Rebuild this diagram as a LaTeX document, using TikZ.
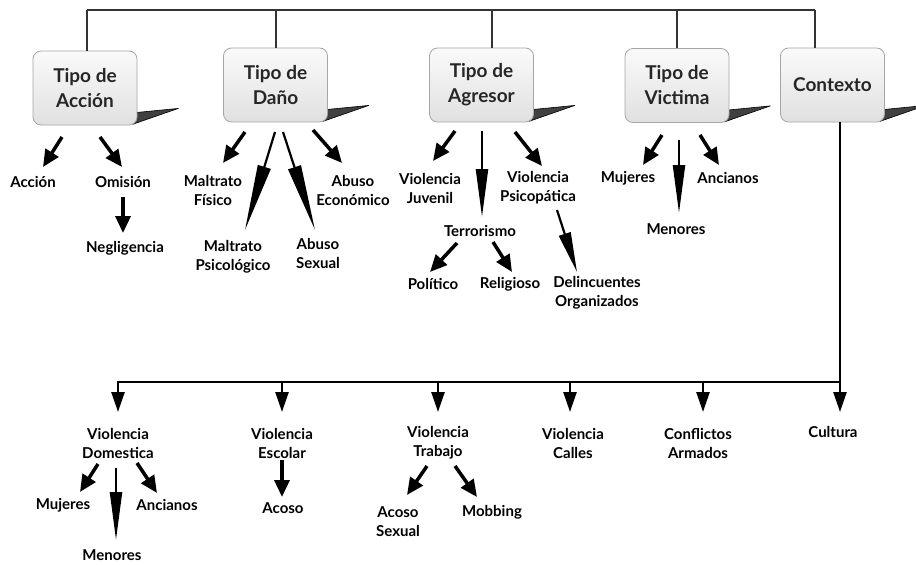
\documentclass[tikz,border=0pt]{standalone}
\usepackage{fontspec}
\setmainfont{Lato}
\usetikzlibrary{arrows.meta,calc,backgrounds}
\begin{document}
\begin{tikzpicture}[x=1pt,y=-1pt,
  box/.style={draw=gray!70, line width=0.8pt, rounded corners=8pt, top color=gray!4, bottom color=gray!24,
    minimum width=104pt, minimum height=74pt, align=center, font=\fontsize{19}{25}\selectfont\bfseries, text=black!85},
  lbl/.style={align=center, font=\fontsize{15}{19}\selectfont\bfseries, inner sep=0pt},
  sarr/.style={line width=3.5pt, -{Triangle[length=17pt,width=15pt]}},
  larr/.style={line width=2.2pt, -{Triangle[length=48pt,width=12pt]}},
  darr/.style={line width=2.5pt, -{Triangle[length=20pt,width=13pt]}},
  conn/.style={line width=1.4pt, black!80},
  bus/.style={line width=2.6pt, black},
  flap/.style={fill=black!75, draw=black, line width=0.6pt, line join=round},
]
\useasboundingbox (0,0) rectangle (916,565);

% main boxes
\node[box] (acc) at (85,88) {Tipo de\\Acción};
\node[box] (dano) at (275.5,85) {Tipo de\\Daño};
\node[box] (agr) at (481.5,85) {Tipo de\\Agresor};
\node[box] (vic) at (677,85.5) {Tipo de\\Victima};
\node[box] (ctx) at (832.5,85) {Contexto};

\begin{scope}[on background layer]
\fill[white] (0,0) rectangle (916,565);
\foreach \b in {acc,dano,agr,vic,ctx}{
  \filldraw[flap] ($(\b.south east)+(0,-13)$) -- ($(\b.south east)+(41,-17)$) -- ($(\b.south east)+(-5,-1)$) -- cycle;
}
\end{scope}

% top connectors
\coordinate (t1) at (87,10);
\coordinate (t2) at (276,10);
\coordinate (t3) at (492,10);
\coordinate (t4) at (677,10);
\coordinate (t5) at (815,10);
\draw[conn] (t1) -- (t5);
\draw[conn] (t1) -- (t1 |- acc.north);
\draw[conn] (t2) -- (t2 |- dano.north);
\draw[conn] (t3) -- (t3 |- agr.north);
\draw[conn] (t4) -- (t4 |- vic.north);
\draw[conn] (t5) -- (t5 |- ctx.north);

% labels
\node[lbl] (accion) at (33,182) {Acción};
\node[lbl] (omision) at (123,182) {Omisión};
\node[lbl] (negl) at (125,248) {Negligencia};
\node[lbl] (mfis) at (213,190) {Maltrato\\Físico};
\node[lbl] (mpsi) at (233,257) {Maltrato\\Psicológico};
\node[lbl] (asex) at (318,253) {Abuso\\Sexual};
\node[lbl] (aeco) at (353,190) {Abuso\\Económico};
\node[lbl] (vjuv) at (430,188) {Violencia\\Juvenil};
\node[lbl] (terr) at (480,231) {Terrorismo};
\node[lbl] (vpsi) at (538,188) {Violencia\\Psicopática};
\node[lbl] (poli) at (433,284) {Político};
\node[lbl] (reli) at (510,284) {Religioso};
\node[lbl] (delin) at (597,293) {Delincuentes\\Organizados};
\node[lbl] (muj) at (628,178) {Mujeres};
\node[lbl] (men) at (676,229) {Menores};
\node[lbl] (anc) at (728,178) {Ancianos};

\node[lbl] (vdom) at (118,443) {Violencia\\Domestica};
\node[lbl] (vesc) at (282,443) {Violencia\\Escolar};
\node[lbl] (vtra) at (438,443) {Violencia\\Trabajo};
\node[lbl] (vcal) at (573,443) {Violencia\\Calles};
\node[lbl] (carm) at (698,443) {Conflictos\\Armados};
\node[lbl] (cult) at (833,432) {Cultura};
\node[lbl] (dmuj) at (63,505) {Mujeres};
\node[lbl] (dmen) at (112,555) {Menores};
\node[lbl] (danc) at (167,505) {Ancianos};
\node[lbl] (acoso) at (283,508) {Acoso};
\node[lbl] (asexl) at (398,522) {Acoso\\Sexual};
\node[lbl] (mobb) at (492,512) {Mobbing};

% arrows: Tipo de Acción
\draw[sarr] ($(acc)+(-23,49)$) -- ($(accion)+(10,-15)$);
\draw[sarr] ($(acc)+(15,49)$) -- ($(omision)+(-1,-15)$);
\draw[sarr] ($(omision)+(0,15)$) -- ($(negl)+(-2,-15)$);
% Tipo de Daño
\draw[larr,-{Triangle[length=66pt,width=13pt]}] ($(dano)+(-0.5,47)$) -- ($(mpsi)+(12,-27)$);
\draw[larr,-{Triangle[length=66pt,width=13pt]}] ($(dano)+(7.5,47)$) -- ($(asex)+(-3,-23)$);
\draw[sarr] ($(dano)+(-30.5,47)$) -- ($(mfis)+(10,-27)$);
\draw[sarr] ($(dano)+(37.5,45)$) -- ($(aeco)+(-11,-27)$);
% Tipo de Agresor
\draw[sarr] ($(agr)+(-26.5,46)$) -- ($(vjuv)+(3,-27)$);
\draw[larr] ($(agr)+(0.5,46)$) -- ($(terr)+(2,-14)$);
\draw[sarr] ($(agr)+(33.5,47)$) -- ($(vpsi)+(4,-22)$);
\draw[sarr] ($(terr)+(-23,12)$) -- ($(poli)+(-3,-12)$);
\draw[sarr] ($(terr)+(13,11)$) -- ($(reli)+(2,-12)$);
\draw[larr,-{Triangle[length=40pt,width=12pt]}] ($(vpsi)+(19,22)$) -- ($(delin)+(-20,-21)$);
% Tipo de Victima
\draw[sarr] ($(vic)+(-15,49.5)$) -- ($(muj)+(15,-13)$);
\draw[larr] ($(vic)+(2,54.5)$) -- ($(men)+(3,-16)$);
\draw[sarr] ($(vic)+(23,49.5)$) -- ($(anc)+(-9,-13)$);

% Contexto bus
\coordinate (cb) at (840,382);
\coordinate (bl) at (118,382);
\draw[bus] (cb |- ctx.south) -- (cb);
\draw[bus] (bl) -- (cb);
\foreach \x in {118,282,438,570,703,840}{
  \draw[darr] (\x,381) -- (\x,412);
}

% Violencia Domestica
\draw[sarr] ($(vdom)+(-20,21)$) -- ($(dmuj)+(17,-13)$);
\draw[larr] ($(vdom)+(-2,25)$) -- ($(dmen)+(4,-15)$);
\draw[sarr] ($(vdom)+(19,20)$) -- ($(danc)+(-10,-12)$);
% Escolar
\draw[sarr] ($(vesc)+(0,17)$) -- ($(acoso)+(-1,-11)$);
% Trabajo
\draw[sarr] ($(vtra)+(-11,23)$) -- ($(asexl)+(9,-27)$);
\draw[sarr] ($(vtra)+(17,23)$) -- ($(mobb)+(-15,-15)$);
\end{tikzpicture}
\end{document}
